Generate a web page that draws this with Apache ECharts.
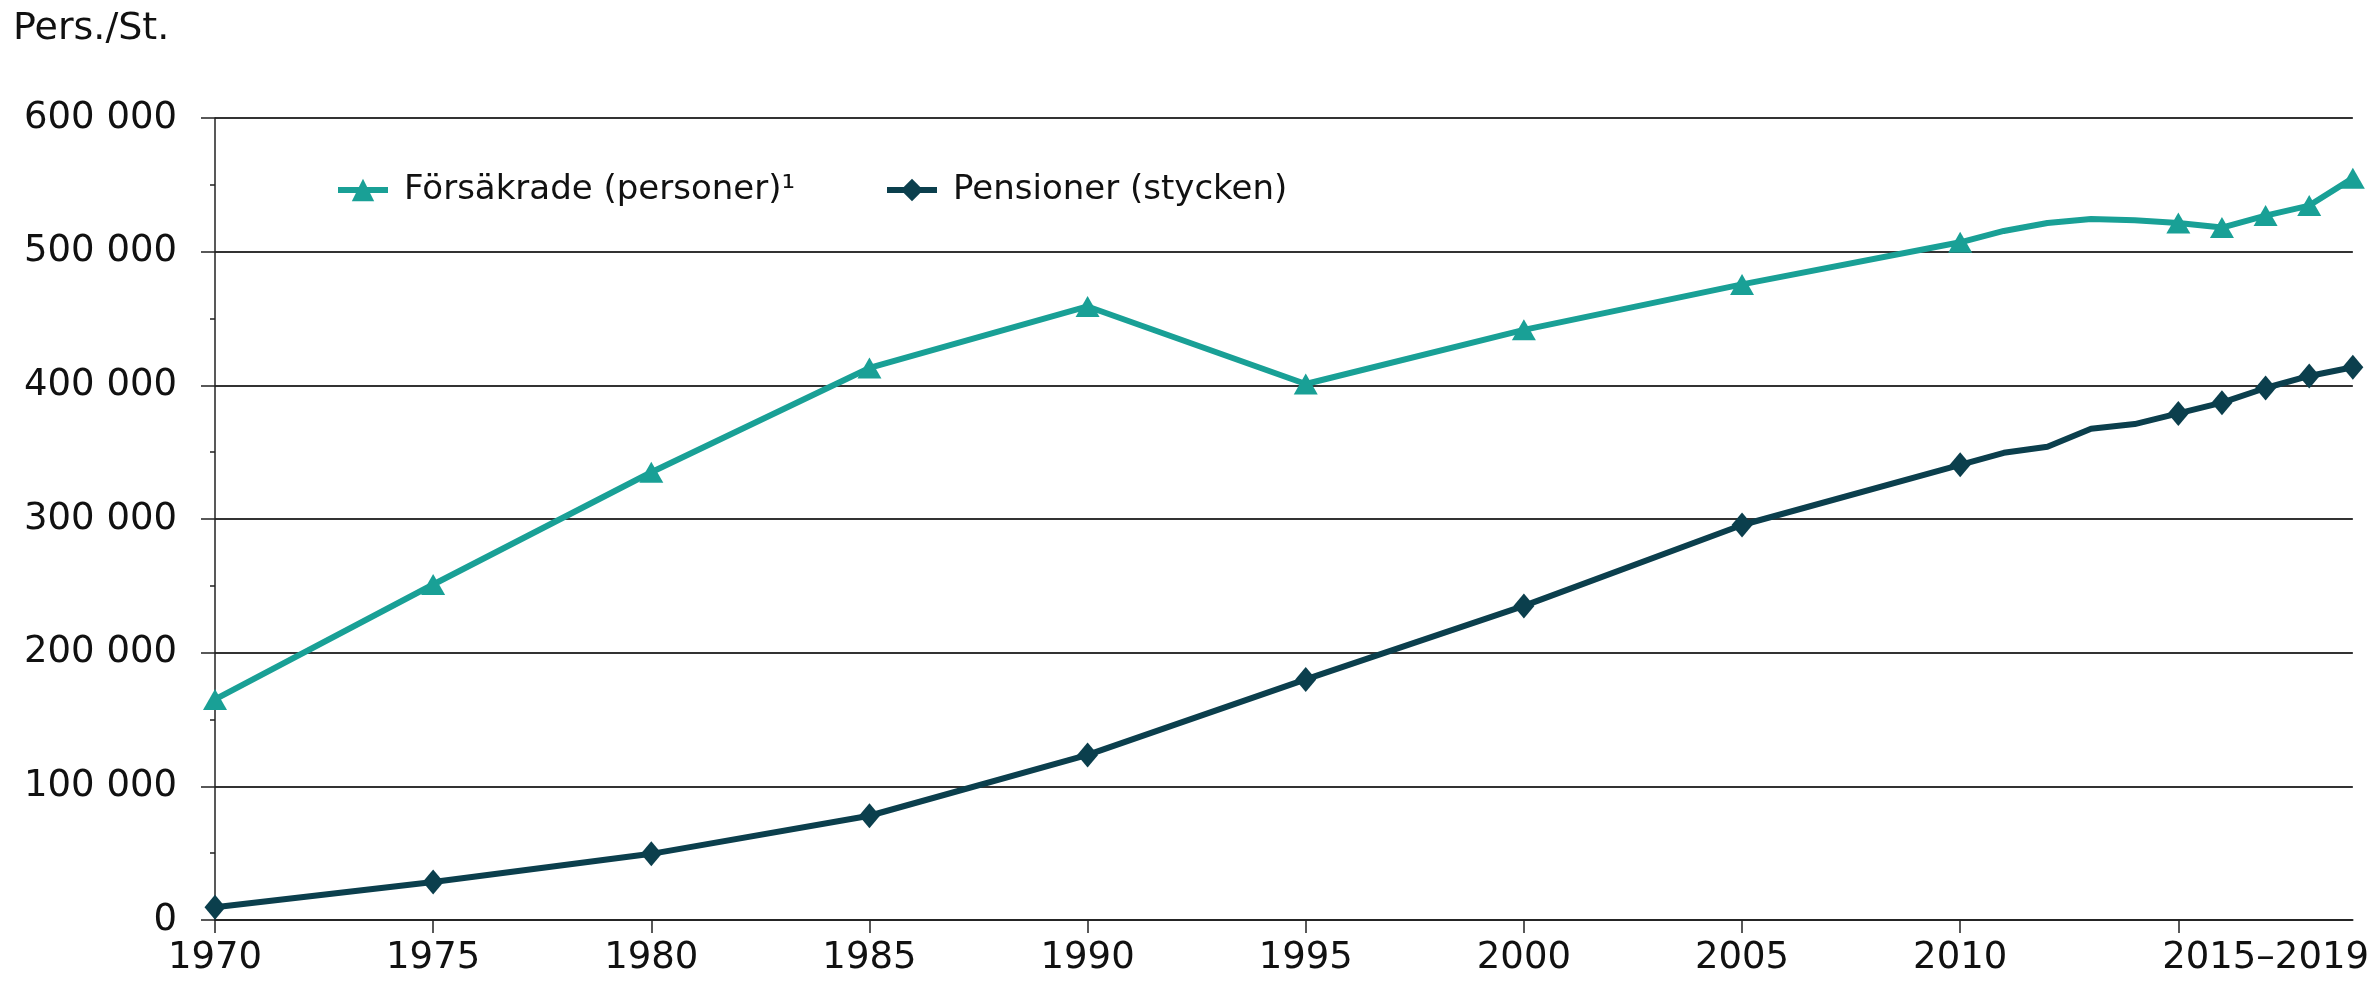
<!DOCTYPE html>
<html>
<head>
<meta charset="utf-8">
<script src="https://cdn.jsdelivr.net/npm/echarts@6/dist/echarts.min.js"></script>
<style>
  html, body { margin: 0; padding: 0; background: #fff; }
  #box { width: 2372px; height: 987px; }
</style>
</head>
<body>
<div id="box"></div>
<script>
// år på x-axeln
var years = [1970, 1975, 1980, 1985, 1990, 1995, 2000, 2005, 2010, 2011, 2012, 2013, 2014, 2015, 2016, 2017, 2018, 2019]
// år utan markör
var unmarkedYears = [2011, 2012, 2013, 2014]

// Försäkrade (personer)
var forsakrade = [165000, 251000, 335000, 413000, 459000, 401000, 441500, 475500, 507000, 515500, 521500, 524500, 523500, 521500, 518000, 527000, 534500, 555000]
// Pensioner (stycken)
var pensioner = [9500, 28500, 49500, 78000, 123500, 180000, 235000, 295500, 340500, 349500, 354000, 367500, 371000, 379000, 387000, 398000, 407000, 413500]

// axelmarkeringar
var xTickValues = [1970, 1975, 1980, 1985, 1990, 1995, 2000, 2005, 2010, 2015]
var xLabelValues = [1970, 1975, 1980, 1985, 1990, 1995, 2000, 2005, 2010, 2017]
var xLabelText = { 2017: '2015–2019' }

var seriesNames = ['Försäkrade (personer)¹', 'Pensioner (stycken)']
var colors = ['#19A096', '#0B3F4D']

function toPoints(values) {
  return years.map(function (y, i) {
    var item = { value: [y, values[i]] }
    if (unmarkedYears.indexOf(y) > -1) {
      item.symbol = 'none'
    }
    return item
  })
}

var myChart = echarts.init(document.getElementById('box'))
var font = 'DejaVu Sans, Verdana, sans-serif'

// en legend per serie, så att positionen blir exakt
function legendAt(left, name) {
  return {
    left: left,
    top: 173,
    padding: 0,
    itemWidth: 50,
    itemHeight: 28,
    data: [name],
    lineStyle: { width: 6 },
    textStyle: { fontFamily: font, fontSize: 34, color: '#111', padding: [0, 0, 0, 11] }
  }
}

myChart.setOption({
  animation: false,
  textStyle: { fontFamily: font },
  title: {
    text: 'Pers./St.',
    left: 8,
    top: 5,
    textStyle: { fontFamily: font, fontSize: 38, fontWeight: 'normal', color: '#111' }
  },
  legend: [legendAt(335, seriesNames[0]), legendAt(884, seriesNames[1])],
  grid: { left: 215, right: 14, top: 118, bottom: 67 },
  xAxis: {
    type: 'value',
    min: 1970,
    max: 2019,
    axisLine: { show: true, lineStyle: { color: '#222', width: 1.5 } },
    axisTick: { show: true, length: 13, customValues: xTickValues, lineStyle: { color: '#222', width: 1.5 } },
    axisLabel: {
      customValues: xLabelValues,
      margin: 20,
      fontSize: 37,
      color: '#111',
      fontFamily: font,
      formatter: function (v) {
        return xLabelText[v] || String(v)
      }
    },
    splitLine: { show: false }
  },
  yAxis: {
    type: 'value',
    min: 0,
    max: 600000,
    interval: 100000,
    axisLine: { show: true, lineStyle: { color: '#222', width: 1.5 } },
    axisTick: { show: true, length: 14, lineStyle: { color: '#222', width: 1.5 } },
    minorTick: { show: true, splitNumber: 2, length: 5, lineStyle: { color: '#222', width: 1.5 } },
    axisLabel: {
      margin: 38,
      fontSize: 37,
      color: '#111',
      fontFamily: font,
      formatter: function (v) {
        return String(v).replace(/\B(?=(\d{3})+(?!\d))/g, ' ')
      }
    },
    splitLine: { show: true, lineStyle: { color: '#333', width: 2 } }
  },
  series: [
    {
      name: seriesNames[0],
      type: 'line',
      data: toPoints(forsakrade),
      color: colors[0],
      symbol: 'triangle',
      symbolSize: [24, 21],
      lineStyle: { width: 6 }
    },
    {
      name: seriesNames[1],
      type: 'line',
      data: toPoints(pensioner),
      color: colors[1],
      symbol: 'diamond',
      symbolSize: [21, 25],
      lineStyle: { width: 6 }
    }
  ]
})
</script>
</body>
</html>
